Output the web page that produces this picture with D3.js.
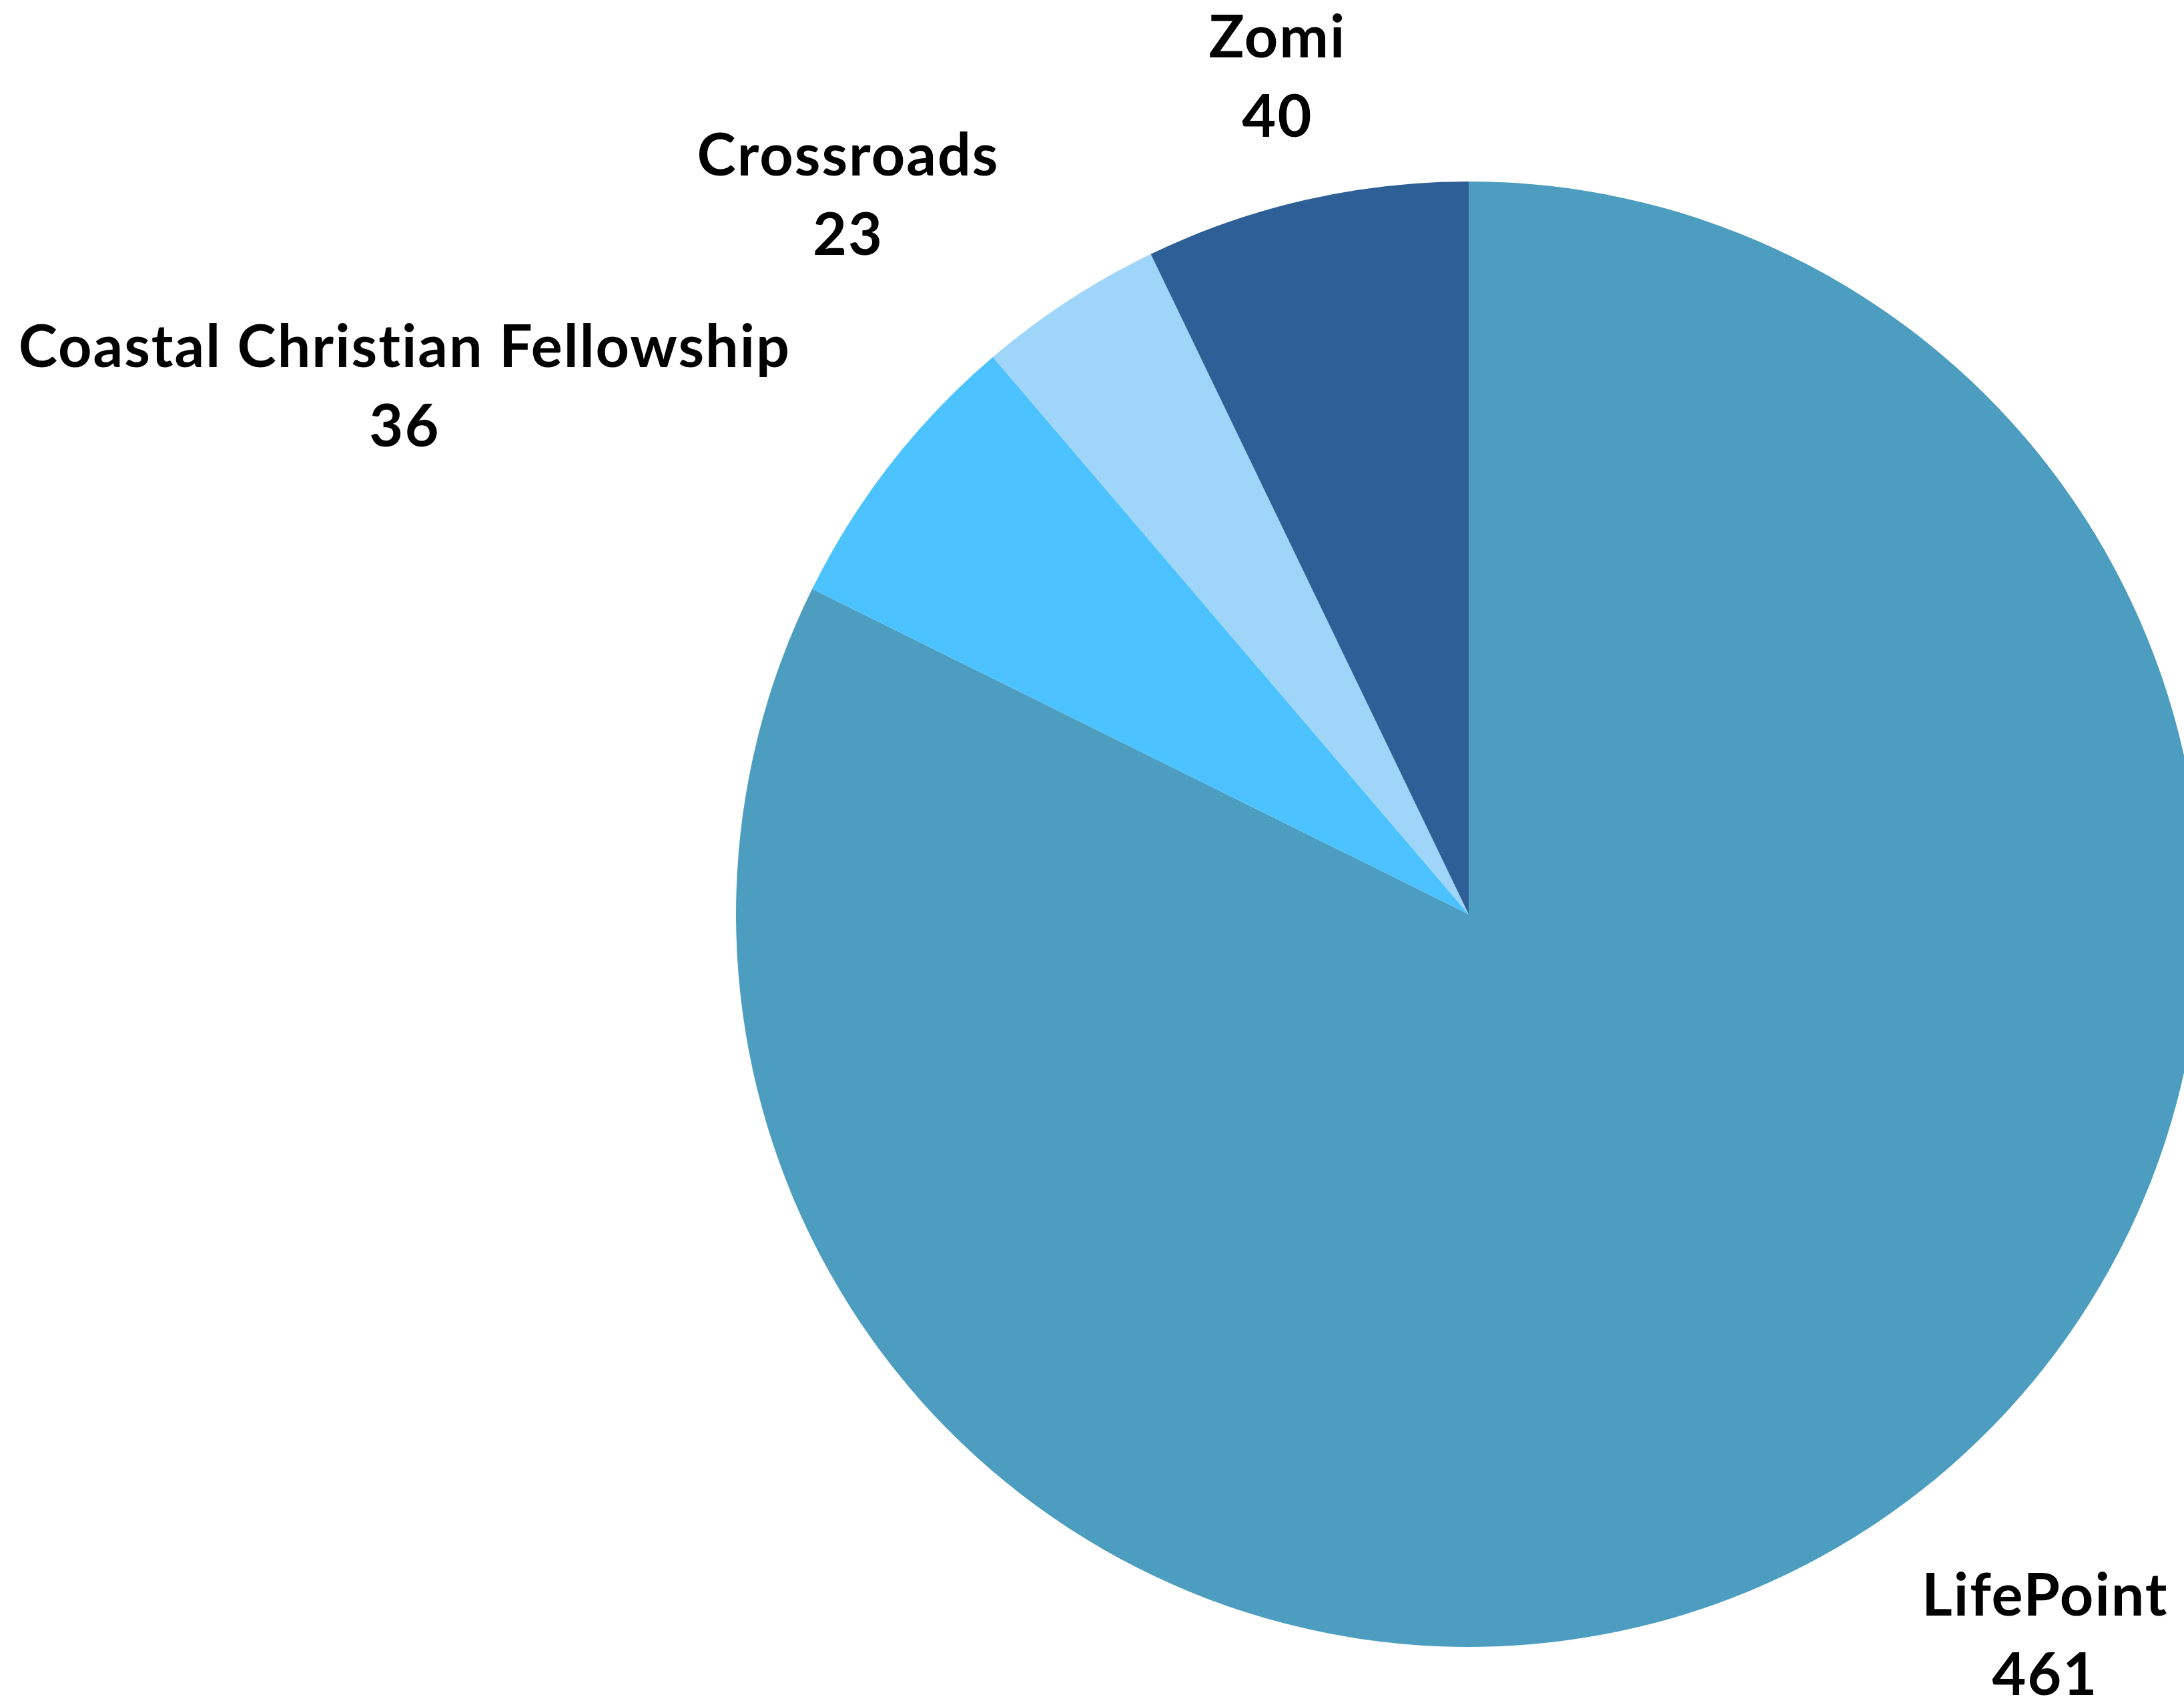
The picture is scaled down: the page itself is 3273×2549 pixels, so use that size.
<!DOCTYPE html>
<html>
<head>
<meta charset="utf-8">
<script src="https://cdn.jsdelivr.net/npm/d3@7"></script>
<style>
  html, body { margin: 0; padding: 0; background: #fff; }
  svg { display: block; }
  .label {
    font-family: Lato, "Noto Sans", sans-serif;
    font-weight: 700;
    fill: #000;
    letter-spacing: 2px;
    font-variant-ligatures: none;
  }
</style>
</head>
<body>
<svg id="chart"></svg>
<script>
'use strict';

const categories = ['LifePoint', 'Coastal Christian Fellowship', 'Crossroads', 'Zomi'];
const values = [461, 36, 23, 40];
const colors = ['#4c9dbf', '#4cc3ff', '#9ed5f8', '#2e5f97'];

const width = 3273;
const height = 2549;
const radius = 1098;
const center = { x: 2201, y: 1370 };
const fontSize = 88;
const bottomPad = 9;

const svg = d3.select('#chart')
  .attr('width', width)
  .attr('height', height);

const slices = categories.map((name, i) => ({ name, value: values[i], color: colors[i] }));

const pie = d3.pie()
  .sort(null)
  .value(d => d.value);

const arc = d3.arc()
  .innerRadius(0)
  .outerRadius(radius);

const labelArc = d3.arc()
  .innerRadius(radius * 1.173)
  .outerRadius(radius * 1.173);

const arcs = pie(slices);

const g = svg.append('g')
  .attr('transform', `translate(${center.x}, ${center.y})`);

g.selectAll('.slice')
  .data(arcs)
  .enter()
  .append('path')
  .attr('class', 'slice')
  .attr('d', arc)
  .attr('fill', d => d.data.color);

// labels sit outside, anchored by the side of the pie they are on
const labels = g.selectAll('.label')
  .data(arcs)
  .enter()
  .append('text')
  .attr('class', 'label')
  .style('font-size', fontSize + 'px')
  .attr('text-anchor', d => {
    const mid = (d.startAngle + d.endAngle) / 2;
    const s = Math.sin(mid);
    if (Math.abs(s) < 0.3) return 'middle';
    return s < 0 ? 'end' : 'start';
  })
  .attr('transform', d => {
    const [x, y] = labelArc.centroid(d);
    // keep the value line inside the frame
    const maxY = height - bottomPad - center.y - 91;
    return `translate(${x}, ${Math.min(y, maxY)})`;
  });

labels.append('tspan')
  .attr('x', 0)
  .attr('y', -28)
  .text(d => d.data.name);

labels.append('tspan')
  .attr('x', 0)
  .attr('y', 91)
  .text(d => d.data.value);

// keep the value line centred under the name line
labels.each(function(d) {
  const text = d3.select(this);
  const anchor = text.attr('text-anchor');
  if (anchor === 'middle') return;
  const nameWidth = text.select('tspan').node().getComputedTextLength();
  const shift = anchor === 'end' ? -nameWidth / 2 : nameWidth / 2;
  text.selectAll('tspan')
    .attr('x', shift)
    .attr('text-anchor', 'middle');
});
</script>
</body>
</html>
